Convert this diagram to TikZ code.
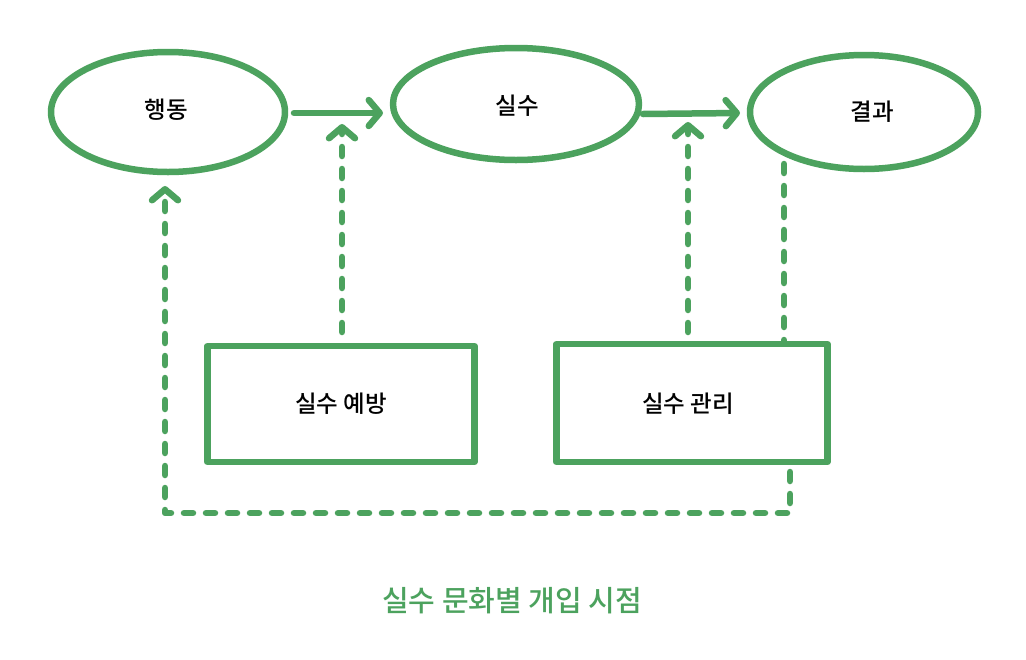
\documentclass[tikz,border=0pt]{standalone}
\usepackage{fontspec}
\setmainfont{Noto Sans CJK KR Medium}
\newfontfamily\titlefont{Noto Sans CJK KR Medium}
\usetikzlibrary{arrows.meta,shapes.geometric}
\definecolor{grn}{RGB}{76,162,94}
\begin{document}
\begin{tikzpicture}[x=1pt,y=-1pt,
  shp/.style={draw=grn,line width=6.5pt,line join=round,line cap=round},
  ell/.style={shp,ellipse,inner sep=0pt},
  boxn/.style={shp,rectangle,inner sep=0pt},
  lbl/.style={font=\fontsize{23.5}{26}\selectfont,text=black},
  conn/.style={draw=grn,line width=6.5pt,line cap=round,line join=round},
  dsh/.style={conn,dash pattern=on 9pt off 13pt},
  tip/.style={-{Straight Barb[length=11pt,width=26pt,line width=6.5pt,line cap=round,line join=round]}}]
\useasboundingbox[fill=white] (0,0) rectangle (1026,659);
\node[ell,minimum width=234pt,minimum height=120pt] (act) at (168,112) {};
\node[lbl] at (166,110) {행동};
\node[ell,minimum width=246pt,minimum height=112pt] (err) at (516,104) {};
\node[lbl] at (517,106) {실수};
\node[ell,minimum width=228pt,minimum height=114pt] (res) at (864,112) {};
\node[lbl] at (872,112) {결과};
\node[boxn,minimum width=267pt,minimum height=116pt] (prev) at (341,404) {};
\node[lbl] at (341,404) {실수 예방};
\node[boxn,minimum width=271pt,minimum height=118pt] (mgmt) at (692,403) {};
\node[lbl] at (688,404) {실수 관리};
\coordinate (a1s) at (294,113);
\coordinate (a1e) at (383,113);
\coordinate (a2s) at (643,114);
\coordinate (a2e) at (740,113);
\draw[conn,tip] (a1s) -- (a1e);
\draw[conn,tip] (a2s) -- (a2e);
\coordinate (p1s) at (342,332);
\coordinate (p1e) at (342,124);
\draw[dsh,tip] (p1s) -- (p1e);
\coordinate (p2s) at (688,332);
\coordinate (p2e) at (688,122);
\draw[dsh,tip] (p2s) -- (p2e);
\coordinate (r1) at (784,164);
\coordinate (r2) at (784,342);
\draw[dsh] (r1) -- (r2);
\coordinate (b1) at (790,472);
\coordinate (b2) at (790,513);
\coordinate (b3) at (165,513);
\coordinate (b4) at (165,186);
\draw[dsh,tip] (b1) -- (b2) -- (b3) -- (b4);
\node[font=\titlefont\fontsize{29}{32}\selectfont,text=grn] (title) at (512,601) {실수 문화별 개입 시점};
\end{tikzpicture}
\end{document}
